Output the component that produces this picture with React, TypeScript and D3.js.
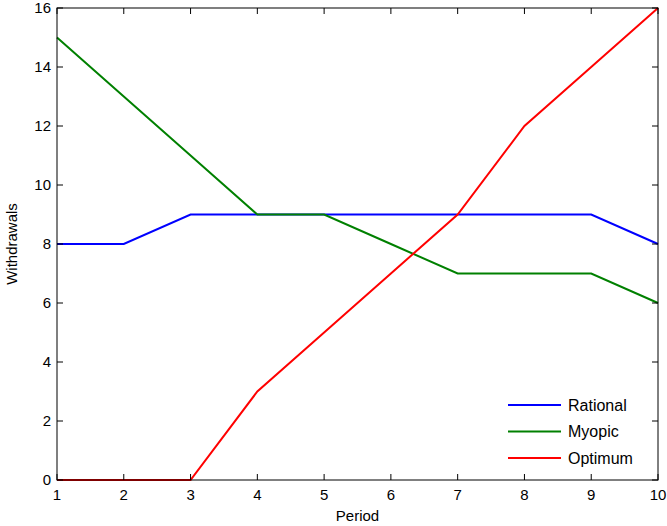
import * as React from 'react';
import * as d3 from 'd3';

const periods = [1, 2, 3, 4, 5, 6, 7, 8, 9, 10];
const rational = [8, 8, 9, 9, 9, 9, 9, 9, 9, 8];
const myopic = [15, 13, 11, 9, 9, 8, 7, 7, 7, 6];
const optimum = [0, 0, 0, 3, 5, 7, 9, 12, 14, 16];
const yTicks = [0, 2, 4, 6, 8, 10, 12, 14, 16];

const series = [
  { name: 'Rational', color: '#0000ff', values: rational },
  { name: 'Myopic', color: '#008000', values: myopic },
  { name: 'Optimum', color: '#ff0000', values: optimum },
];

export default function App() {
  const left = 57, right = 658, top = 8, bottom = 480;
  const x = d3.scaleLinear().domain([1, 10]).range([left, right]);
  const y = d3.scaleLinear().domain([0, 16]).range([bottom, top]);
  const line = d3.line<number>().x((_, i) => x(periods[i])).y(d => y(d));
  const font = 'Liberation Sans, Arial, sans-serif';
  return (
    <svg width={667} height={526} style={{ position: 'absolute', left: 0, top: 0, background: '#fff' }} fontFamily={font} fontSize={15}>
      {series.map(s => (
        <path key={s.name} d={line(s.values)!} fill="none" stroke={s.color} strokeWidth={2} />
      ))}
      <rect x={left} y={top} width={right - left} height={bottom - top} fill="none" stroke="#000" strokeWidth={1} />
      {periods.map(p => (
        <g key={p}>
          <line x1={x(p)} x2={x(p)} y1={bottom} y2={bottom - 6} stroke="#000" />
          <line x1={x(p)} x2={x(p)} y1={top} y2={top + 6} stroke="#000" />
          <text x={x(p)} y={bottom + 20} textAnchor="middle">{p}</text>
        </g>
      ))}
      {yTicks.map(t => (
        <g key={t}>
          <line x1={left} x2={left + 6} y1={y(t)} y2={y(t)} stroke="#000" />
          <line x1={right} x2={right - 6} y1={y(t)} y2={y(t)} stroke="#000" />
          <text x={left - 6} y={y(t)} dy="0.35em" textAnchor="end">{t}</text>
        </g>
      ))}
      <text x={(left + right) / 2} y={521} textAnchor="middle">Period</text>
      <text transform={`translate(17,${(top + bottom) / 2}) rotate(-90)`} textAnchor="middle">Withdrawals</text>
      {series.map((s, i) => (
        <g key={s.name} transform={`translate(0,${405 + i * 26.5})`}>
          <line x1={508} x2={561} y1={0} y2={0} stroke={s.color} strokeWidth={2} />
          <text x={568} y={0} dy="0.35em" fontSize={16}>{s.name}</text>
        </g>
      ))}
    </svg>
  );
}
